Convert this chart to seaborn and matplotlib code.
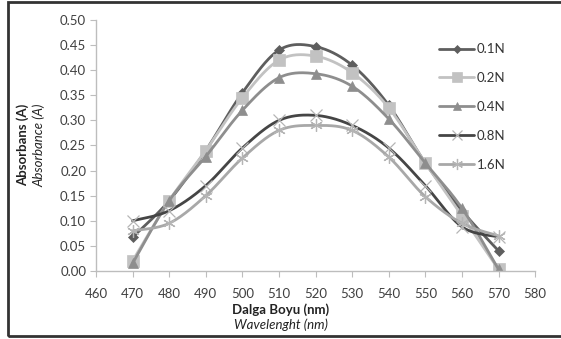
import numpy as np
import pandas as pd
import seaborn as sns
import matplotlib.pyplot as plt
from matplotlib.lines import Line2D
from matplotlib.patches import Rectangle

# Data
wavelength = [470, 480, 490, 500, 510, 520, 530, 540, 550, 560, 570]
abs_01 = [0.067, 0.140, 0.240, 0.355, 0.440, 0.447, 0.410, 0.330, 0.215, 0.120, 0.040]
abs_02 = [0.020, 0.140, 0.240, 0.345, 0.420, 0.428, 0.395, 0.325, 0.215, 0.110, 0.003]
abs_04 = [0.015, 0.140, 0.228, 0.320, 0.385, 0.393, 0.368, 0.303, 0.215, 0.125, 0.003]
abs_08 = [0.100, 0.120, 0.170, 0.245, 0.300, 0.310, 0.290, 0.245, 0.170, 0.088, 0.068]
abs_16 = [0.080, 0.095, 0.150, 0.225, 0.280, 0.290, 0.280, 0.227, 0.148, 0.095, 0.070]

series_names = ["0.1N", "0.2N", "0.4N", "0.8N", "1.6N"]
series_values = [abs_01, abs_02, abs_04, abs_08, abs_16]

colors = ["#5e5e5e", "#c2c2c2", "#8e8e8e", "#454545", "#a8a8a8"]
markers = ["D", "s", "^", "x", (6, 2, 0)]
msizes = [5, 8, 7, 8, 9]


def smooth(xs, ys, n=30):
    # Excel-style smoothed line (cubic bezier, tension 1/6)
    xs = np.asarray(xs, float)
    ys = np.asarray(ys, float)
    px = np.concatenate([[xs[0]], xs, [xs[-1]]])
    py = np.concatenate([[ys[0]], ys, [ys[-1]]])
    t = np.linspace(0, 1, n)
    ox, oy = [], []
    for i in range(1, len(px) - 2):
        p0 = np.array([px[i], py[i]])
        p3 = np.array([px[i + 1], py[i + 1]])
        p1 = p0 + (np.array([px[i + 1], py[i + 1]]) - np.array([px[i - 1], py[i - 1]])) / 6
        p2 = p3 - (np.array([px[i + 2], py[i + 2]]) - np.array([px[i], py[i]])) / 6
        b = ((1 - t) ** 3)[:, None] * p0 + (3 * (1 - t) ** 2 * t)[:, None] * p1 \
            + (3 * (1 - t) * t ** 2)[:, None] * p2 + (t ** 3)[:, None] * p3
        ox.extend(b[:, 0])
        oy.extend(b[:, 1])
    return ox, oy


sns.set_style("white")
plt.rcParams['font.family'] = ['Lato', 'DejaVu Sans']

fig = plt.figure(figsize=(5.61, 3.39), dpi=100)
ax = fig.add_axes([0.171, 0.2006, 0.783, 0.7404])

handles = []
for name, vals, c, m, ms in zip(series_names, series_values, colors, markers, msizes):
    sx, sy = smooth(wavelength, vals)
    curve = pd.DataFrame({"x": sx, "y": sy})
    sns.lineplot(data=curve, x="x", y="y", ax=ax, color=c, linewidth=2,
                 sort=False, estimator=None)
    cross = m == "x" or isinstance(m, tuple)
    mc = "#b5b5b5" if cross else c
    pts = pd.DataFrame({"x": wavelength, "y": vals})
    ax.plot(pts["x"], pts["y"], linestyle="none", marker=m, color=mc,
            markersize=ms, markeredgewidth=0.9 if cross else 0.5)
    handles.append(Line2D([0], [0], color=c, lw=2, marker=m, markersize=ms - 1,
                          markeredgecolor=mc, markerfacecolor=mc,
                          markeredgewidth=0.9 if cross else 0.5))

ax.set_xlim(460, 580)
ax.set_ylim(0, 0.5)
ax.set_xticks(range(460, 581, 10))
ax.set_yticks(np.arange(0, 0.501, 0.05))
ax.set_yticklabels([f"{v:.2f}" for v in np.arange(0, 0.501, 0.05)])

for side in ["top", "right"]:
    ax.spines[side].set_visible(False)
for side in ["left", "bottom"]:
    ax.spines[side].set_color("#bdbdbd")
    ax.spines[side].set_linewidth(1)
ax.tick_params(axis="both", direction="out", length=4, color="#bdbdbd",
               labelsize=9.5, labelcolor="#404040", bottom=True, left=True)
ax.tick_params(axis="x", pad=8)
ax.tick_params(axis="y", pad=3)

ax.set_xlabel("")
ax.set_ylabel("")
fig.text(0.5, 0.088, "Dalga Boyu (nm)", ha="center", va="center",
         fontsize=9.5, fontweight="bold", color="#222222")
fig.text(0.5, 0.041, "Wavelenght (nm)", ha="center", va="center",
         fontsize=9.5, fontstyle="italic", color="#222222")
fig.text(0.041, 0.572, "Absorbans (A)", ha="center", va="center",
         fontsize=9.5, fontweight="bold", rotation=90, color="#222222")
fig.text(0.069, 0.572, "Absorbance (A)", ha="center", va="center",
         fontsize=9.5, fontstyle="italic", rotation=90, color="#222222")

leg = ax.legend(handles, series_names, loc="upper left",
                bbox_to_anchor=(0.755, 0.955), frameon=False, fontsize=9.5,
                labelspacing=1.28, handlelength=2.6, handletextpad=0.2)
for t in leg.get_texts():
    t.set_color("#333333")

fig.patches.append(Rectangle((0.0143, 0.009), 1.0, 0.985, transform=fig.transFigure,
                             fill=False, edgecolor="#333333", linewidth=2))

fig.savefig("out.png", dpi=100)
plt.close()
